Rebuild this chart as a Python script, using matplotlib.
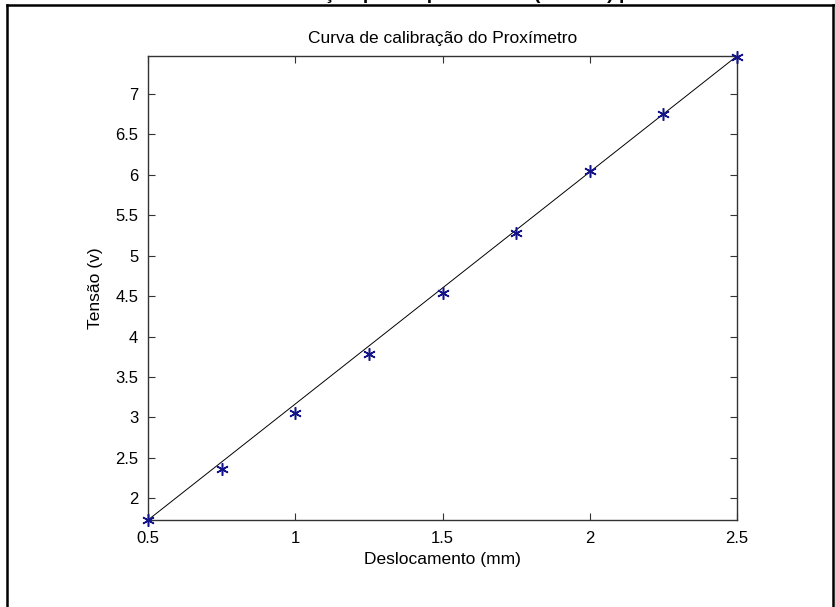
import matplotlib
matplotlib.use('Agg')
import matplotlib.pyplot as plt
from matplotlib.lines import Line2D

plt.rcParams['font.family'] = ['Liberation Sans', 'DejaVu Sans']

# dados medidos (deslocamento em mm, tensao em V)
deslocamento = [0.5, 0.75, 1.0, 1.25, 1.5, 1.75, 2.0, 2.25, 2.5]
tensao = [1.73, 2.36, 3.05, 3.78, 4.54, 5.28, 6.05, 6.75, 7.46]

# reta de ajuste (extremos)
ajuste_x = [0.5, 2.5]
ajuste_y = [1.73, 7.47]

xticks = [0.5, 1, 1.5, 2, 2.5]
xticklabels = ['0.5', '1', '1.5', '2', '2.5']
yticks = [2, 2.5, 3, 3.5, 4, 4.5, 5, 5.5, 6, 6.5, 7]
yticklabels = ['2', '2.5', '3', '3.5', '4', '4.5', '5', '5.5', '6', '6.5', '7']

fig = plt.figure(figsize=(8.35, 6.07), dpi=100)
W, H = 835, 607
ax = fig.add_axes([148 / W, 1 - 520 / H, (737 - 148) / W, (520 - 56) / H])

ax.plot(ajuste_x, ajuste_y, color='black', linewidth=0.7, zorder=2)
# asterisco estilo MATLAB
ax.plot(deslocamento, tensao, linestyle='none', marker=(6, 2, 0), markersize=9,
        color='#14148a', markeredgewidth=1.1, zorder=3, clip_on=False)

ax.set_xlim(0.5, 2.5)
ax.set_ylim(1.73, 7.47)
ax.set_xticks(xticks)
ax.set_xticklabels(xticklabels)
ax.set_yticks(yticks)
ax.set_yticklabels(yticklabels)
ax.tick_params(direction='in', top=True, right=True, length=5, width=0.8,
               labelsize=12, color='#333333')
ax.tick_params(axis='y', pad=7)
ax.tick_params(axis='x', pad=8)
for s in ax.spines.values():
    s.set_color('#333333')
    s.set_linewidth(1.0)

ax.set_title('Curva de calibração do Proxímetro', fontsize=12.5, pad=9)
ax.set_xlabel('Deslocamento (mm)', fontsize=12.5, labelpad=4)
ax.set_ylabel('Tensão (v)', fontsize=12.5, labelpad=9)

# moldura da figura (documento original)
fig.add_artist(Line2D([7 / W, 7 / W], [0, 1 - 4.5 / H], transform=fig.transFigure,
                      color='black', linewidth=1.8))
fig.add_artist(Line2D([7 / W, 1], [1 - 4.5 / H, 1 - 4.5 / H], transform=fig.transFigure,
                      color='black', linewidth=1.8))
fig.add_artist(Line2D([833 / W, 833 / W], [0, 1 - 4.5 / H], transform=fig.transFigure,
                      color='black', linewidth=1.8))

# titulo do documento, cortado no topo
fig.text(258 / W, 1 + 1 / H, 'Calibração para o proxímetro (Tensão) p',
         ha='left', va='baseline', fontsize=14, fontweight='bold')

fig.savefig('out.png', dpi=100, facecolor='white')
